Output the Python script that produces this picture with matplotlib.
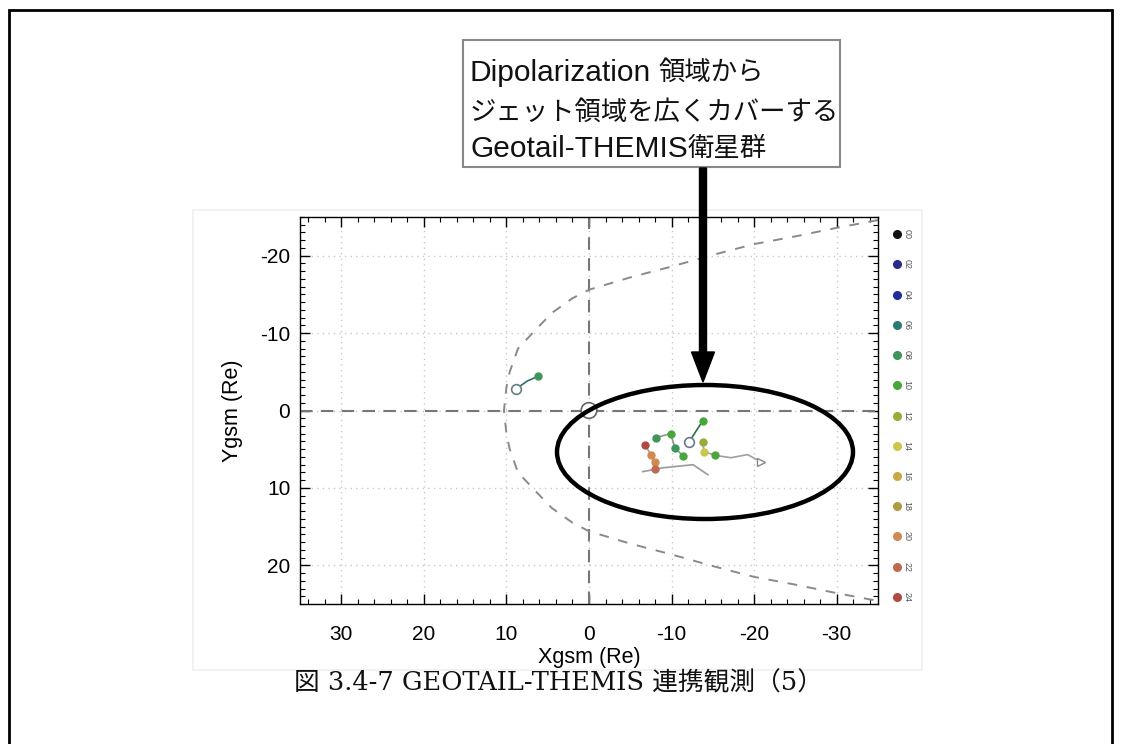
import matplotlib
matplotlib.use("Agg")
import matplotlib.pyplot as plt
from matplotlib.patches import Rectangle, Ellipse, FancyArrow
import numpy as np

plt.rcParams['axes.unicode_minus'] = False

# ---------------- data ----------------
x_ticks = [30, 20, 10, 0, -10, -20, -30]
y_ticks = [-20, -10, 0, 10, 20]

# magnetopause (upper half; mirrored for lower half)
mp_x = [-35, -30, -25, -20, -15, -10, -5, 0, 2, 4.5, 6.4, 8.6, 9.6, 10.0, 10.3]
mp_y = [-24.6, -23.6, -22.5, -21.5, -20.1, -18.6, -17.2, -15.6, -14.5, -12.6, -10.5, -8.0, -5.0, -3.0, 0.0]

# Geotail track near the magnetopause
geotail_x = [8.8, 7.5, 6.2]
geotail_y = [-2.8, -3.8, -4.4]

# THEMIS tracks in the tail
th1_x = [-12.1, -13.0, -13.8]
th1_y = [4.1, 2.6, 1.3]
th2_x = [-6.8, -7.5, -8.0, -8.0]
th2_y = [4.5, 5.7, 6.7, 7.6]
th3_x = [-8.1, -9.9, -10.4, -11.4]
th3_y = [3.5, 3.0, 4.8, 5.9]
th4_x = [-13.8, -13.9, -15.3, -17.2, -19.2, -20.8]
th4_y = [4.1, 5.3, 5.8, 6.1, 5.7, 6.6]
th5_x = [-6.5, -9.0, -12.6, -14.4]
th5_y = [7.9, 7.4, 7.0, 8.3]

legend_labels = ['00', '02', '04', '06', '08', '10', '12', '14', '16', '18', '20', '22', '24']
legend_colors = ['#111111', '#2a2a8c', '#1f2d9e', '#2e7878', '#3f955a', '#4aa63c', '#9aab3a',
                 '#c9c84c', '#c9a944', '#b09a42', '#d08a52', '#c06a52', '#b04a40']

# annotation lines split into (latin part, japanese part)
box_lines = [('Dipolarization ', '領域から'), ('', 'ジェット領域を広くカバーする'),
             ('Geotail-THEMIS', '衛星群')]
caption = '図 3.4-7 GEOTAIL-THEMIS 連携観測（5）'

# ---------------- figure ----------------
W, H = 1123, 744
fig = plt.figure(figsize=(W / 100, H / 100), dpi=100)
fig.patch.set_facecolor('white')

def fx(px):
    return px / W

def fy(py):
    return 1 - py / H

sans = ['Liberation Sans', 'Noto Sans CJK JP', 'DejaVu Sans']
serif = ['DejaVu Serif', 'Noto Sans CJK JP']

# outer frame
fig.patches.append(Rectangle((fx(9), fy(760)), fx(1112) - fx(9), fy(10) - fy(760),
                             transform=fig.transFigure, fill=False, edgecolor='black',
                             linewidth=2, zorder=0))
# faint background of the original plot
fig.patches.append(Rectangle((fx(193), fy(670)), fx(922) - fx(193), fy(210) - fy(670),
                             transform=fig.transFigure, fill=False, edgecolor='#f0f0f0',
                             linewidth=1.2, zorder=0))

# main axes: x 300..878, y 217..604
ax = fig.add_axes([fx(300), fy(604), fx(878) - fx(300), fy(217) - fy(604)])
ax.set_xlim(35, -35)
ax.set_ylim(25, -25)
ax.set_xticks(x_ticks)
ax.set_yticks(y_ticks)
ax.set_xticks(np.arange(-34, 35, 2), minor=True)
ax.set_yticks(np.arange(-25, 26, 1), minor=True)
ax.tick_params(which='both', direction='in', top=True, right=True, colors='black')
ax.tick_params(which='major', length=7, width=1)
ax.tick_params(which='minor', length=3.5, width=0.8)
ax.tick_params(axis='x', which='major', pad=15, labelsize=15)
ax.tick_params(axis='y', which='major', pad=7, labelsize=15)
for lab in ax.get_xticklabels() + ax.get_yticklabels():
    lab.set_family(sans)
ax.grid(True, which='major', linestyle=(0, (1, 3)), color='#c8c8c8', linewidth=1)
for s in ax.spines.values():
    s.set_linewidth(1)
ax.set_xlabel('Xgsm (Re)', fontsize=15.5, family=sans, labelpad=2)
ax.set_ylabel('Ygsm (Re)', fontsize=15.5, family=sans, labelpad=12)

# zero lines
ax.axhline(0, color='#777777', linestyle=(0, (6, 4)), linewidth=1.5, zorder=2)
ax.axvline(0, color='#777777', linestyle=(0, (6, 4)), linewidth=1.5, zorder=2)

# magnetopause
mpx = np.array(mp_x + mp_x[::-1][1:])
mpy = np.array(mp_y + [-v for v in mp_y[::-1][1:]])
ax.plot(mpx, mpy, color='#8a8a8a', linestyle=(0, (5, 5)), linewidth=1.4, zorder=2)

# Earth
ax.add_patch(Ellipse((0, 0), 1.9, 1.9 * 8.26 / 7.74, facecolor='white', edgecolor='#666666',
                     linewidth=1.2, zorder=4))

# tracks
def track(xs, ys, line_color, dot_colors, start_open=False):
    ax.plot(xs, ys, color=line_color, linewidth=1.2, zorder=5)
    for i, (xx, yy) in enumerate(zip(xs, ys)):
        c = dot_colors[i]
        if c is None:
            continue
        ax.plot(xx, yy, 'o', ms=5, color=c, mec=c, zorder=6)
    if start_open:
        ax.plot(xs[0], ys[0], 'o', ms=7, mfc='white', mec='#6a7a8a', mew=1.2, zorder=6)

track(geotail_x, geotail_y, '#2e6e6e', [None, None, legend_colors[4]], start_open=True)
track(th5_x, th5_y, '#9a9a9a', [None, None, None, None])
track(th2_x, th2_y, '#a0a0a0', [legend_colors[12], legend_colors[10], legend_colors[10], legend_colors[11]])
track(th3_x, th3_y, '#8a9a8a', [legend_colors[4], legend_colors[5], legend_colors[4], legend_colors[5]])
track(th4_x, th4_y, '#a0a0a0', [legend_colors[6], legend_colors[7], legend_colors[5], None, None, None])
ax.plot(th4_x[-1], th4_y[-1], '>', ms=6, mfc='white', mec='#888888', zorder=6)
track(th1_x, th1_y, '#2e6e4e', [None, None, legend_colors[5]], start_open=True)

# legend column
lax = fig.add_axes([fx(885), fy(612), fx(925) - fx(885), fy(219) - fy(612)])
lax.set_xlim(0, 1)
lax.set_ylim(12.5, -0.5)
lax.axis('off')
for i, (lab, col) in enumerate(zip(legend_labels, legend_colors)):
    lax.plot(0.3, i, 'o', ms=5.5, color=col)
    lax.text(0.55, i, lab, fontsize=6.5, rotation=-90, color='#555555',
             ha='center', va='center', family=sans)

# annotation box
fig.patches.append(Rectangle((fx(463), fy(167)), fx(840) - fx(463), fy(40) - fy(167),
                             transform=fig.transFigure, facecolor='white', edgecolor='#888888',
                             linewidth=1.5, zorder=3))
renderer = fig.canvas.get_renderer()
for (lat, jp), py in zip(box_lines, [73, 112, 149]):
    x0 = 470
    if lat:
        t = fig.text(fx(x0), fy(py), lat.rstrip(), fontsize=21.5, family=sans, ha='left',
                     va='center', color='#111111', zorder=4)
        x0 = t.get_window_extent(renderer).x1 + (7 if lat.endswith(' ') else 0)
    fig.text(fx(x0), fy(py), jp, fontsize=19, family=sans, ha='left', va='center',
             color='#111111', zorder=4)

# arrow
fig.patches.append(FancyArrow(fx(703), fy(168), 0, fy(382) - fy(168), width=fx(7) - fx(0),
                              head_width=fx(23) - fx(0), head_length=fy(352) - fy(382),
                              length_includes_head=True, transform=fig.transFigure,
                              color='black', zorder=5))

# ellipse
fig.patches.append(Ellipse((fx(705), fy(452)), fx(296) - fx(0), fy(0) - fy(134),
                           transform=fig.transFigure, fill=False, edgecolor='black',
                           linewidth=3.2, zorder=5))

# caption
fig.text(fx(558), fy(683), caption, fontsize=18.5, family=serif, ha='center', va='center',
         color='#111111')

fig.savefig('out.png', dpi=100)
